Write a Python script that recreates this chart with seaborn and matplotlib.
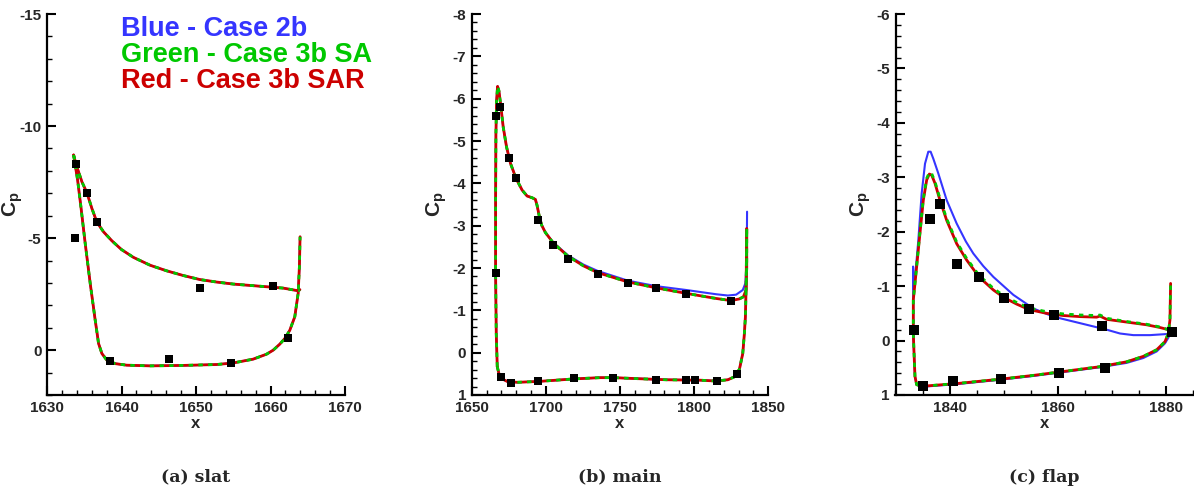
import matplotlib
matplotlib.use("Agg")
import matplotlib.pyplot as plt
import seaborn as sns
from matplotlib.ticker import MultipleLocator, FuncFormatter

# ---------------------------------------------------------------- data
# Slat: the three computations coincide on the slat
slat_upper_x = [1633.57, 1633.93, 1634.69, 1635.36, 1636.03, 1636.70, 1637.59, 1638.71,
                1640.00, 1641.61, 1643.84, 1646.07, 1648.30, 1650.54, 1652.77, 1655.00,
                1659.46, 1661.70, 1663.71, 1663.95]
slat_upper_cp = [-8.71, -8.26, -7.51, -7.02, -6.32, -5.71, -5.28, -4.88,
                 -4.49, -4.14, -3.79, -3.54, -3.33, -3.15, -3.04, -2.95,
                 -2.83, -2.77, -2.65, -2.70]
slat_lower_x = [1633.57, 1633.75, 1634.11, 1634.55, 1635.13, 1635.80, 1636.47, 1636.92,
                1637.37, 1638.04, 1639.15, 1640.71, 1643.84, 1648.30, 1652.77, 1655.00,
                1657.68, 1659.46, 1660.36, 1661.25, 1661.92, 1662.59, 1663.26, 1663.71,
                1663.88, 1663.97]
slat_lower_cp = [-8.71, -8.33, -7.59, -6.40, -4.76, -2.98, -1.34, -0.30,
                 0.15, 0.45, 0.60, 0.67, 0.70, 0.68, 0.64, 0.57,
                 0.40, 0.18, 0.00, -0.27, -0.52, -0.89, -1.49, -2.53,
                 -3.72, -5.06]
slat_exp_x = [1633.8, 1633.9, 1635.4, 1636.7, 1650.6, 1660.4, 1662.3, 1638.4, 1646.4, 1654.7]
slat_exp_cp = [-5.01, -8.30, -7.02, -5.71, -2.78, -2.87, -0.55, 0.48, 0.39, 0.57]

# Main element, case 3b (SA and SAR coincide)
main_upper_x_3b = [1667.23, 1666.55, 1666.11, 1666.11, 1666.33, 1666.78, 1667.45, 1668.34,
                   1669.46, 1671.25, 1673.49, 1676.17, 1679.98, 1684.00, 1687.36, 1690.72,
                   1692.95, 1694.07, 1695.41, 1697.20, 1699.66, 1705.03, 1714.88, 1725.39,
                   1735.01, 1755.37, 1774.61, 1794.74, 1814.88, 1824.94, 1830.54, 1833.22,
                   1835.01, 1835.46, 1835.46]
main_upper_cp_3b = [0.33, -0.46, -1.89, -3.60, -5.17, -5.96, -6.29, -6.19,
                    -5.88, -5.33, -4.86, -4.47, -4.11, -3.84, -3.70, -3.66,
                    -3.62, -3.48, -3.25, -3.01, -2.84, -2.59, -2.28, -2.05,
                    -1.89, -1.67, -1.53, -1.40, -1.28, -1.23, -1.27, -1.32,
                    -1.48, -2.03, -2.93]
# Main element, case 2b
main_upper_x_2b = [1667.23, 1666.55, 1666.11, 1666.11, 1666.33, 1666.78, 1667.45, 1668.34,
                   1669.46, 1671.25, 1673.49, 1676.17, 1679.98, 1684.00, 1687.36, 1690.72,
                   1692.95, 1694.07, 1695.41, 1697.20, 1699.66, 1705.03, 1714.88, 1725.39,
                   1735.01, 1755.37, 1774.61, 1794.74, 1814.88, 1822.71, 1828.30, 1832.77,
                   1834.56, 1835.46, 1835.68]
main_upper_cp_2b = [0.33, -0.46, -1.89, -3.60, -5.17, -5.96, -6.29, -6.19,
                    -5.88, -5.33, -4.86, -4.47, -4.11, -3.84, -3.70, -3.66,
                    -3.62, -3.48, -3.25, -3.01, -2.84, -2.60, -2.30, -2.08,
                    -1.93, -1.70, -1.57, -1.48, -1.38, -1.35, -1.37, -1.48,
                    -1.64, -2.19, -3.33]
main_lower_x = [1667.23, 1668.34, 1670.58, 1673.94, 1680.65, 1694.74, 1703.02, 1718.90,
                1736.58, 1745.53, 1758.95, 1781.32, 1803.69, 1814.88, 1822.71, 1827.18,
                1830.54, 1832.77, 1833.89, 1834.56, 1835.01, 1835.46]
main_lower_cp = [0.33, 0.49, 0.62, 0.68, 0.70, 0.68, 0.66, 0.62,
                 0.59, 0.59, 0.61, 0.64, 0.65, 0.67, 0.64, 0.57,
                 0.39, 0.02, -0.46, -0.85, -1.48, -2.93]
main_exp_x = [1666.6, 1669.0, 1675.3, 1680.0, 1694.7, 1705.0, 1714.9, 1735.0, 1755.4, 1774.6,
              1794.7, 1824.9, 1666.6, 1669.9, 1676.8, 1694.7, 1718.9, 1745.1, 1774.6, 1794.7,
              1800.6, 1815.1, 1829.0]
main_exp_cp = [-5.59, -5.80, -4.61, -4.13, -3.14, -2.55, -2.22, -1.86, -1.65, -1.53,
               -1.39, -1.23, -1.89, 0.57, 0.71, 0.68, 0.61, 0.59, 0.64, 0.65,
               0.65, 0.66, 0.50]

# Flap
flap_upper_x_3b = [1833.29, 1833.29, 1833.60, 1834.03, 1834.52, 1835.14, 1835.76, 1836.25,
                   1836.68, 1837.29, 1838.21, 1839.45, 1841.30, 1843.14, 1845.42, 1848.07,
                   1850.04, 1852.38, 1854.65, 1857.92, 1860.99, 1864.07, 1867.15, 1867.77,
                   1869.00, 1872.69, 1876.38, 1878.85, 1880.38]
flap_upper_cp_sar = [-0.13, -0.75, -1.05, -1.48, -1.97, -2.58, -2.95, -3.06,
                     -3.04, -2.89, -2.58, -2.21, -1.78, -1.48, -1.17, -0.93,
                     -0.79, -0.67, -0.57, -0.50, -0.46, -0.44, -0.43, -0.45,
                     -0.39, -0.34, -0.29, -0.24, -0.20]
flap_upper_cp_sa = [-0.13, -0.75, -1.05, -1.50, -2.00, -2.61, -2.98, -3.09,
                    -3.07, -2.92, -2.61, -2.24, -1.81, -1.51, -1.20, -0.96,
                    -0.82, -0.70, -0.60, -0.53, -0.49, -0.47, -0.46, -0.47,
                    -0.41, -0.35, -0.30, -0.25, -0.20]
flap_lower_x_3b = [1833.29, 1833.45, 1833.60, 1833.91, 1834.83, 1841.30, 1849.30, 1855.46,
                   1861.61, 1867.77, 1872.69, 1875.77, 1878.23, 1879.77, 1880.38, 1880.69,
                   1880.81]
flap_lower_cp_3b = [-0.13, 0.30, 0.66, 0.81, 0.84, 0.79, 0.71, 0.64,
                    0.56, 0.48, 0.39, 0.29, 0.17, 0.02, -0.13, -0.38,
                    -1.05]
flap_upper_x_2b = [1833.29, 1833.25, 1833.35, 1833.70, 1834.22, 1834.83, 1835.45, 1836.06,
                   1836.49, 1836.99, 1837.91, 1839.45, 1841.30, 1843.00, 1844.37, 1846.20,
                   1848.07, 1851.76, 1855.46, 1859.15, 1862.84, 1866.54, 1869.00, 1871.46,
                   1873.92, 1877.00, 1880.07, 1880.69]
flap_upper_cp_2b = [-0.13, -1.36, -0.95, -1.25, -1.85, -2.70, -3.25, -3.47,
                    -3.47, -3.34, -3.07, -2.58, -2.15, -1.82, -1.60, -1.37,
                    -1.17, -0.84, -0.59, -0.44, -0.35, -0.26, -0.20, -0.13,
                    -0.10, -0.10, -0.12, -0.13]
flap_lower_x_2b = [1833.29, 1833.45, 1833.60, 1833.91, 1834.83, 1841.30, 1849.30, 1855.46,
                   1861.61, 1867.77, 1872.69, 1875.77, 1878.23, 1879.77, 1880.38, 1880.69]
flap_lower_cp_2b = [-0.13, 0.30, 0.66, 0.81, 0.85, 0.80, 0.72, 0.65,
                    0.57, 0.49, 0.41, 0.32, 0.20, 0.05, -0.05, -0.13]
flap_exp_x = [1833.4, 1836.4, 1838.2, 1841.3, 1845.4, 1850.0, 1854.7, 1859.3, 1868.1, 1881.1,
              1835.0, 1840.6, 1849.5, 1860.2, 1868.6]
flap_exp_cp = [-0.20, -2.23, -2.51, -1.41, -1.17, -0.79, -0.58, -0.47, -0.27, -0.15,
               0.84, 0.75, 0.70, 0.59, 0.50]

legend_lines = ["Blue - Case 2b", "Green - Case 3b SA", "Red - Case 3b SAR"]
captions = ["(a) slat", "(b) main", "(c) flap"]

# ---------------------------------------------------------------- style
BLUE, GREEN, RED = "#3535ff", "#00c800", "#cc0000"

sns.set_theme(style="ticks")
plt.rcParams["font.family"] = ["Liberation Sans", "DejaVu Sans"]
plt.rcParams["font.weight"] = "bold"
plt.rcParams["axes.unicode_minus"] = False
plt.rcParams["mathtext.fontset"] = "custom"
plt.rcParams["mathtext.rm"] = "Liberation Sans:bold"
plt.rcParams["mathtext.it"] = "Liberation Sans:bold"
plt.rcParams["mathtext.default"] = "rm"

fig = plt.figure(figsize=(11.94, 4.93), dpi=100)

panels = [
    dict(rect=[47 / 1194, 98 / 493, 298 / 1194, 381 / 493], xlim=(1630, 1670), ylim=(2, -15),
         xmaj=10, xmin=2, ymaj=5, ymin=1, ms=28,
         cases=[(slat_upper_x, slat_upper_cp, slat_lower_x, slat_lower_cp)] * 3,
         exp=(slat_exp_x, slat_exp_cp)),
    dict(rect=[471.7 / 1194, 98 / 493, 296.6 / 1194, 381 / 493], xlim=(1650, 1850), ylim=(1, -8),
         xmaj=50, xmin=10, ymaj=1, ymin=0.2, ms=32,
         cases=[(main_upper_x_2b, main_upper_cp_2b, main_lower_x, main_lower_cp),
                (main_upper_x_3b, main_upper_cp_3b, main_lower_x, main_lower_cp),
                (main_upper_x_3b, main_upper_cp_3b, main_lower_x, main_lower_cp)],
         exp=(main_exp_x, main_exp_cp)),
    dict(rect=[895.5 / 1194, 98 / 493, 297.8 / 1194, 381 / 493], xlim=(1830, 1885), ylim=(1, -6),
         xmaj=20, xmin=5, ymaj=1, ymin=0.2, ms=50,
         cases=[(flap_upper_x_2b, flap_upper_cp_2b, flap_lower_x_2b, flap_lower_cp_2b),
                (flap_upper_x_3b, flap_upper_cp_sa, flap_lower_x_3b, flap_lower_cp_3b),
                (flap_upper_x_3b, flap_upper_cp_sar, flap_lower_x_3b, flap_lower_cp_3b)],
         exp=(flap_exp_x, flap_exp_cp)),
]

fmt = FuncFormatter(lambda v, p: f"{v + 0.0:g}")
axes = []

for i, pnl in enumerate(panels):
    ax = fig.add_axes(pnl["rect"])
    ax.set_facecolor("white")
    axes.append(ax)

    blue, green, red = pnl["cases"]
    # case 2b underneath, then SAR solid, SA dashed on top
    for (ux, ucp, lx, lcp), color, lw, ls, z in [
        (blue, BLUE, 1.5, "-", 2),
        (red, RED, 2.0, "-", 3),
        (green, GREEN, 2.0, (0, (1.6, 1.9)), 4),
    ]:
        for xs, ys in ((ux, ucp), (lx, lcp)):
            sns.lineplot(x=xs, y=ys, ax=ax, estimator=None, sort=False, color=color,
                         linewidth=lw, linestyle=ls, zorder=z, legend=False)

    ex, ecp = pnl["exp"]
    sns.scatterplot(x=ex, y=ecp, ax=ax, marker="s", s=pnl["ms"], color="black",
                    edgecolor="black", linewidth=0, zorder=6, legend=False)

    ax.set_xlim(*pnl["xlim"])
    ax.set_ylim(*pnl["ylim"])
    ax.xaxis.set_major_locator(MultipleLocator(pnl["xmaj"]))
    ax.xaxis.set_minor_locator(MultipleLocator(pnl["xmin"]))
    ax.yaxis.set_major_locator(MultipleLocator(pnl["ymaj"]))
    ax.yaxis.set_minor_locator(MultipleLocator(pnl["ymin"]))
    ax.xaxis.set_major_formatter(fmt)
    ax.yaxis.set_major_formatter(fmt)

    for side in ("top", "right"):
        ax.spines[side].set_visible(False)
    for side in ("left", "bottom"):
        ax.spines[side].set_linewidth(1.6)
        ax.spines[side].set_color("black")

    ax.tick_params(which="major", direction="in", length=6.5, width=1.5, color="black",
                   labelsize=11, pad=4)
    ax.tick_params(which="minor", direction="in", length=3.5, width=1.0, color="black")

    ax.set_ylabel("$C_p$", fontsize=15, fontweight="bold", rotation=90)
    ax.yaxis.set_label_coords(-0.075, 0.5)
    ax.set_xlabel("x", fontsize=12, fontweight="bold")
    ax.xaxis.set_label_coords(0.5, -0.055)
    ax.xaxis.label.set_va("top")

    ax.text(0.5, (477 - 395) / -381, captions[i], transform=ax.transAxes, ha="center",
            va="center", fontsize=12.5, fontweight="bold", family="DejaVu Serif")

for text, color, base in zip(legend_lines, [BLUE, GREEN, RED], [36, 62, 88]):
    fig.text(121 / 1194, 1 - base / 493, text, color=color, fontsize=19.5,
             fontweight="bold", va="baseline", ha="left")

# make sure every generated tick label is drawn in the bold face
fig.canvas.draw()
for ax in axes:
    for lab in ax.get_xticklabels() + ax.get_yticklabels():
        lab.set_fontweight("bold")
        lab.set_family(["Liberation Sans", "DejaVu Sans"])

fig.savefig("out.png", dpi=100, facecolor="white")
